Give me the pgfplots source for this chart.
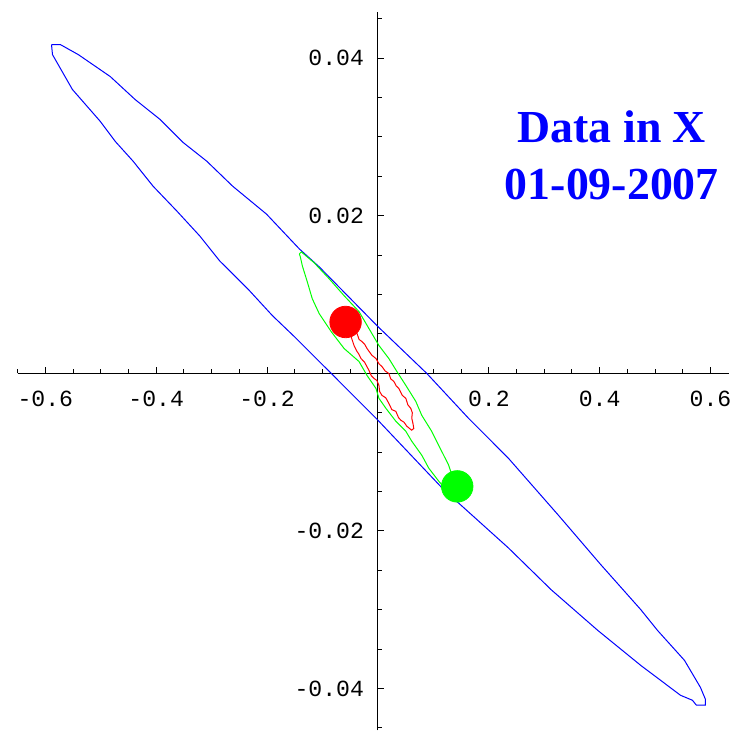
\documentclass[border=0pt]{standalone}
\usepackage{pgfplots}
\pgfplotsset{compat=1.18}
\usepackage{fontspec}
\setmainfont{Liberation Serif}
\newfontfamily\monofont{Liberation Mono}
\definecolor{mblue}{rgb}{0,0,1}
\definecolor{mgreen}{rgb}{0,1,0}
\definecolor{mred}{rgb}{1,0,0}
\begin{document}
\begin{tikzpicture}
\begin{axis}[
  scale only axis, width=357.15pt, height=360.65pt,
  xmin=-0.65, xmax=0.634, ymin=-0.0453, ymax=0.0459,
  axis lines=middle, axis line style={black, line width=0.5pt, -},
  clip=false,
  scaled x ticks=false, scaled y ticks=false,
  xtick={-0.6,-0.4,-0.2,0.2,0.4,0.6},
  xticklabels={-0.6,-0.4,-0.2,0.2,0.4,0.6},
  ytick={-0.04,-0.02,0.02,0.04},
  yticklabels={-0.04,-0.02,0.02,0.04},
  minor xtick={-0.65,-0.55,-0.5,-0.45,-0.35,-0.3,-0.25,-0.15,-0.1,-0.05,0.05,0.1,0.15,0.25,0.3,0.35,0.45,0.5,0.55},
  minor ytick={-0.045,-0.035,-0.03,-0.025,-0.015,-0.01,-0.005,0.005,0.01,0.015,0.025,0.03,0.035,0.045},
  tick align=inside,
  major tick length=3pt, minor tick length=2pt,
  tick style={black, line width=0.5pt},
  ticklabel style={font=\monofont\fontsize{11.6}{13}\selectfont},
  xticklabel style={yshift=-5.5pt},
  yticklabel style={xshift=-3.5pt},
]
% dots
\addplot[only marks, mark=*, mark size=7.9pt, color=mred, mark options={draw=none, fill=mred}] coordinates {(-0.0584,0.00652)};
\addplot[only marks, mark=*, mark size=7.9pt, color=mgreen, mark options={draw=none, fill=mgreen}] coordinates {(0.143,-0.01434)};
% blue contour
\addplot[mblue, line width=0.5pt, mark=none] coordinates {
(-0.5889,0.04171) (-0.5727,0.04171) (-0.5404,0.04044) (-0.4829,0.03766) (-0.4381,0.03475)
(-0.3932,0.03223) (-0.3519,0.02932) (-0.3088,0.02692) (-0.2621,0.02375) (-0.2011,0.02021)
(-0.1418,0.01579) (-0.1059,0.01351) (0,0.00593) (0.0880,0) (0.1634,-0.00570)
(0.2352,-0.01076) (0.3250,-0.01796) (0.4022,-0.02429) (0.4740,-0.02997) (0.5045,-0.03263)
(0.5530,-0.03642) (0.5817,-0.03984) (0.5907,-0.04135) (0.5907,-0.04211) (0.5745,-0.04211)
(0.5673,-0.04148) (0.5458,-0.04085) (0.4740,-0.03705) (0.3968,-0.03263) (0.3124,-0.02745)
(0.2352,-0.02214) (0.1454,-0.01645) (0.1329,-0.01582) (0,-0.00595) (-0.0844,0)
(-0.1508,0.00466) (-0.1903,0.00732) (-0.2316,0.01048) (-0.2855,0.01427) (-0.3214,0.01743)
(-0.3627,0.02059) (-0.4057,0.02375) (-0.4417,0.02692) (-0.4740,0.02944) (-0.5009,0.03197)
(-0.5512,0.03602) (-0.5871,0.04044) (-0.5889,0.04171)
};
% green contour
\addplot[mgreen, line width=0.5pt, mark=none] coordinates {
(-0.1418,0.01516) (-0.1382,0.01541) (-0.1149,0.01402) (-0.0880,0.01200) (-0.0610,0.00985)
(-0.0341,0.00783) (-0.0162,0.00568) (0.0018,0.00353) (0.0197,0.00188) (0.0341,0.00024)
(0.0503,-0.00153) (0.0682,-0.00355) (0.0790,-0.00532) (0.0969,-0.00735) (0.1095,-0.00912)
(0.1185,-0.01038) (0.1275,-0.01164) (0.1311,-0.01240) (0.1382,-0.01430) (0.1329,-0.01556)
(0.1095,-0.01367) (0.0916,-0.01202) (0.0790,-0.01038) (0.0610,-0.00861) (0.0503,-0.00735)
(0.0323,-0.00608) (0.0144,-0.00444) (0.0018,-0.00317) (-0.0036,-0.00191) (-0.0197,-0.00027)
(-0.0341,0.00150) (-0.0610,0.00315) (-0.0844,0.00530) (-0.1059,0.00757) (-0.1185,0.00947)
(-0.1275,0.01162) (-0.1364,0.01364) (-0.1400,0.01478) (-0.1418,0.01516)
};
% red contour
\addplot[mred, line width=0.5pt, mark=none] coordinates {
(-0.0485,0.00466) (-0.0430,0.00350) (-0.0377,0.00277) (-0.0350,0.00250) (-0.0305,0.00188)
(-0.0240,0.00140) (-0.0162,0.00037) (-0.0120,-0.00030) (-0.0072,-0.00064) (-0.0020,-0.00090)
(0.0018,-0.00153) (0.0030,-0.00230) (0.0072,-0.00279) (0.0140,-0.00310) (0.0197,-0.00381)
(0.0250,-0.00460) (0.0323,-0.00482) (0.0370,-0.00560) (0.0413,-0.00595) (0.0470,-0.00620)
(0.0521,-0.00671) (0.0610,-0.00722) (0.0646,-0.00697) (0.0630,-0.00630) (0.0610,-0.00570)
(0.0620,-0.00500) (0.0592,-0.00444) (0.0540,-0.00400) (0.0503,-0.00317) (0.0440,-0.00280)
(0.0377,-0.00191) (0.0330,-0.00160) (0.0287,-0.00102) (0.0230,-0.00070) (0.0197,-0.00001)
(0.0130,0.00030) (0.0072,0.00087) (0.0020,0.00120) (-0.0036,0.00188) (-0.0110,0.00230)
(-0.0197,0.00315) (-0.0240,0.00370) (-0.0287,0.00403) (-0.0340,0.00430) (-0.0377,0.00504)
(-0.0521,0.00669) (-0.0610,0.00631) (-0.0485,0.00466)
};
\node[anchor=base, text=mblue, font=\fontsize{23}{28}\selectfont\bfseries] at (axis cs:0.422,0.02928) {Data in X};
\node[anchor=base, text=mblue, font=\fontsize{23}{28}\selectfont\bfseries] at (axis cs:0.422,0.02211) {01-09-2007};
\path (rel axis cs:-0.0248,1.0162) (rel axis cs:1,-0.0069);
\end{axis}
\end{tikzpicture}
\end{document}
